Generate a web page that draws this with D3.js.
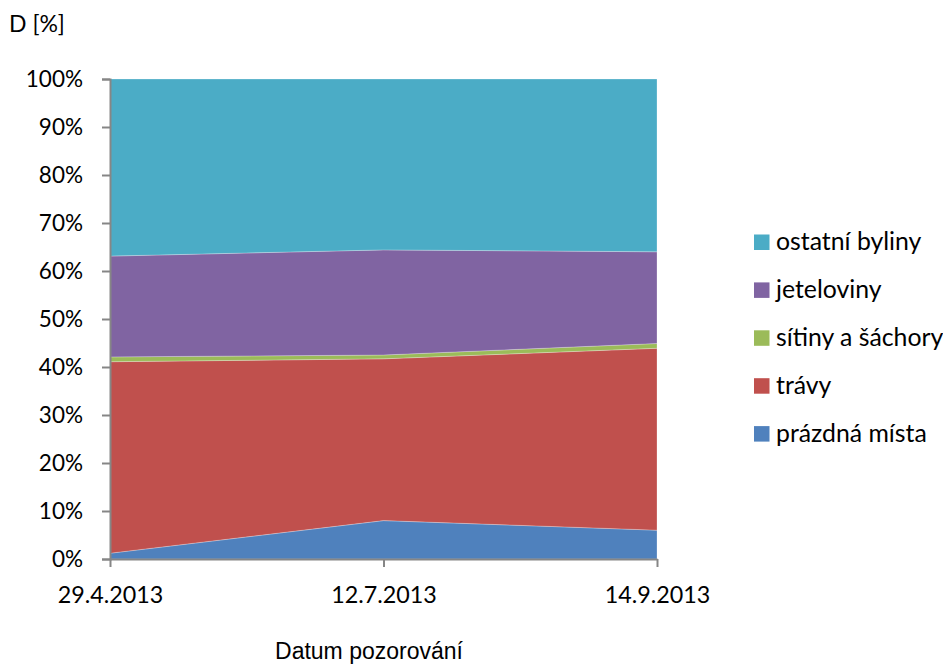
<!DOCTYPE html>
<html>
<head>
<meta charset="utf-8">
<script src="https://cdn.jsdelivr.net/npm/d3@7"></script>
<style>
  html, body { margin: 0; padding: 0; background: #fff; }
  svg { display: block; }
</style>
</head>
<body>
<svg id="chart" width="943" height="667"></svg>
<script>
// Observation dates (categories)
const dates = ["29.4.2013", "12.7.2013", "14.9.2013"];

// Cover share in % per group, stacked bottom to top
const prazdnaMista = [1.2, 8.0, 6.0];
const travy = [39.9, 33.7, 37.9];
const sitinyASachory = [1.0, 0.8, 1.0];
const jeteloviny = [21.0, 21.9, 19.1];
const ostatniByliny = [36.9, 35.6, 36.0];

const seriesNames = ["prázdná místa", "trávy", "sítiny a šáchory", "jeteloviny", "ostatní byliny"];
const seriesValues = [prazdnaMista, travy, sitinyASachory, jeteloviny, ostatniByliny];
const seriesColors = ["#4F81BD", "#C0504D", "#9BBB59", "#8064A2", "#4BACC6"];

const yTicks = [0, 10, 20, 30, 40, 50, 60, 70, 80, 90, 100];

const svg = d3.select("#chart");
const titleFont = "'Liberation Sans', Arial, sans-serif";
const labelFont = "Lato, 'Open Sans', sans-serif";

const plotLeft = 110, plotRight = 657, plotTop = 79, plotBottom = 559;

// Build rows for stacking (normalised to 100 %)
const rows = dates.map((d, i) => {
  const r = { date: d };
  let total = 0;
  seriesNames.forEach((n, k) => { total += seriesValues[k][i]; });
  seriesNames.forEach((n, k) => { r[n] = seriesValues[k][i] / total * 100; });
  return r;
});

const stack = d3.stack().keys(seriesNames);
const layers = stack(rows);

const x = d3.scalePoint().domain(dates).range([plotLeft, plotRight]);
const y = d3.scaleLinear().domain([0, 100]).range([plotBottom, plotTop]);

const area = d3.area()
  .x(d => x(d.data.date))
  .y0(d => y(d[0]))
  .y1(d => y(d[1]));

svg.append("g")
  .selectAll("path")
  .data(layers)
  .join("path")
  .attr("d", area)
  .attr("fill", (d, i) => seriesColors[i])
  .attr("stroke", "rgba(255,255,255,0.25)")
  .attr("stroke-width", 1);

// Y axis
const yAxis = d3.axisLeft(y)
  .tickValues(yTicks)
  .tickFormat(d => d + "%")
  .tickSize(8)
  .tickPadding(19);
const gy = svg.append("g").attr("transform", `translate(${plotLeft},0)`).call(yAxis);
gy.select(".domain").attr("stroke", "#868686").attr("stroke-width", 2);
gy.selectAll(".tick line").attr("stroke", "#868686").attr("stroke-width", 2);
gy.selectAll(".tick text")
  .attr("font-family", labelFont)
  .attr("font-size", 22.5)
  .attr("fill", "#000");

// X axis
const xAxis = d3.axisBottom(x).tickSize(8).tickPadding(19).tickSizeOuter(0);
const gx = svg.append("g").attr("transform", `translate(0,${plotBottom})`).call(xAxis);
gx.select(".domain").attr("stroke", "#868686").attr("stroke-width", 2);
gx.selectAll(".tick line").attr("stroke", "#868686").attr("stroke-width", 2);
gx.selectAll(".tick text")
  .attr("font-family", labelFont)
  .attr("font-size", 23.3)
  .attr("fill", "#000");

// Axis titles
svg.append("text")
  .attr("x", 9).attr("y", 32)
  .attr("font-family", labelFont).attr("font-size", 23)
  .text("D [%]");

svg.append("text")
  .attr("x", 369).attr("y", 659)
  .attr("text-anchor", "middle")
  .attr("font-family", titleFont).attr("font-size", 23)
  .text("Datum pozorování");

// Legend (top entry is the top layer)
const legendItems = seriesNames.map((n, i) => ({ name: n, color: seriesColors[i] })).reverse();
const lg = svg.append("g").attr("transform", "translate(754,234.5)");
const item = lg.selectAll("g").data(legendItems).join("g")
  .attr("transform", (d, i) => `translate(0,${i * 47.9})`);
item.append("rect")
  .attr("width", 15.5).attr("height", 15.5)
  .attr("fill", d => d.color);
item.append("text")
  .attr("x", 22).attr("y", 15.5)
  .attr("font-family", labelFont).attr("font-size", 24.8)
  .attr("fill", "#000")
  .text(d => d.name);
</script>
</body>
</html>
